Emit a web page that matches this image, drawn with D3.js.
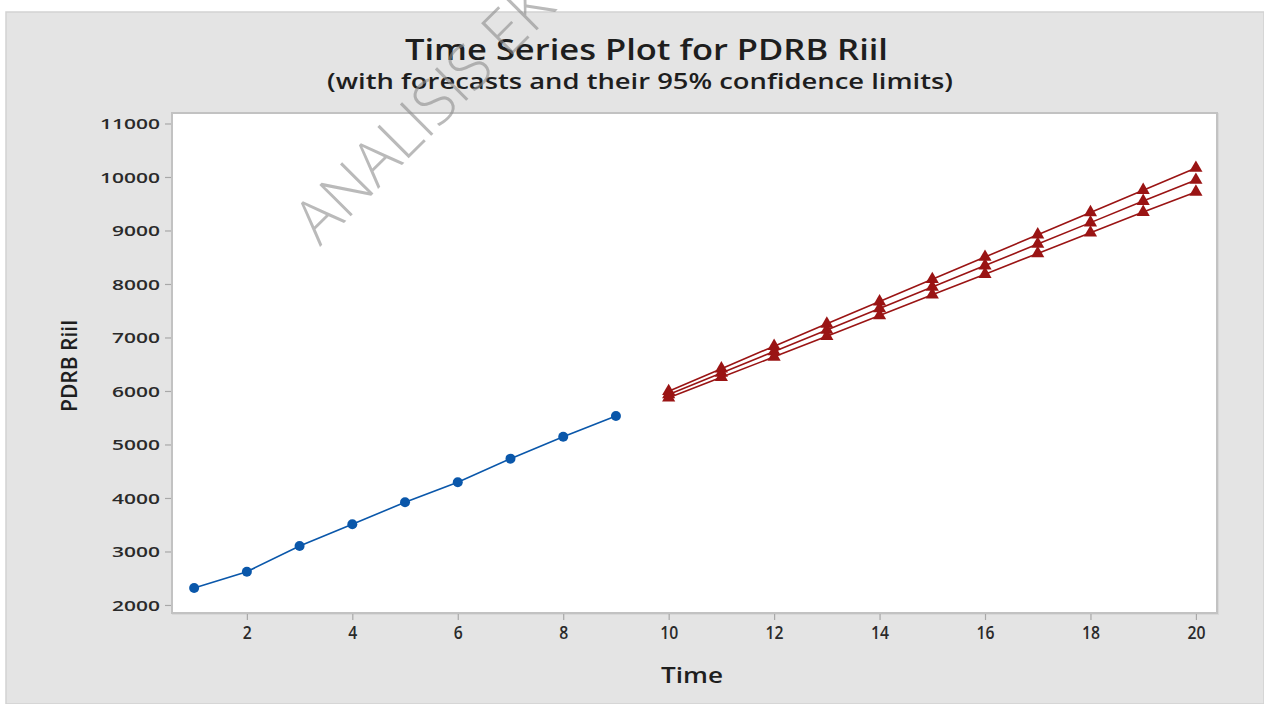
<!DOCTYPE html>
<html>
<head>
<meta charset="utf-8">
<script src="https://cdn.jsdelivr.net/npm/d3@7"></script>
<style>
  html, body { margin: 0; padding: 0; background: #ffffff; }
  svg { display: block; }
</style>
</head>
<body>
<svg id="chart" width="1264" height="704"></svg>
<script>
// Observed series (periods 1-9)
const timeObserved = [1, 2, 3, 4, 5, 6, 7, 8, 9];
const pdrbObserved = [2318, 2622, 3103, 3508, 3920, 4293, 4735, 5146, 5533];

// Forecast periods with point forecasts and 95% limits
const timeForecast = [10, 11, 12, 13, 14, 15, 16, 17, 18, 19, 20];
const pdrbForecast = [5935, 6337, 6738, 7140, 7541, 7943, 8344, 8746, 9147, 9549, 9944];
const pdrbLower    = [5875, 6257, 6638, 7025, 7411, 7798, 8184, 8571, 8957, 9344, 9720];
const pdrbUpper    = [5995, 6417, 6838, 7255, 7671, 8088, 8504, 8921, 9337, 9754, 10168];

// Axis ticks
const xTicks = [2, 4, 6, 8, 10, 12, 14, 16, 18, 20];
const yTicks = [2000, 3000, 4000, 5000, 6000, 7000, 8000, 9000, 10000, 11000];

const svg = d3.select("#chart");

// Panel background
svg.append("rect")
  .attr("x", 6).attr("y", 12)
  .attr("width", 1258).attr("height", 692)
  .attr("fill", "#e4e4e4")
  .attr("stroke", "#d2d2d2").attr("stroke-width", 1.5);

const plot = { left: 172, top: 113, right: 1217, bottom: 613 };

const x = d3.scaleLinear().domain([0.58, 20.4]).range([plot.left, plot.right]);
const y = d3.scaleLinear().domain([1850, 11196]).range([plot.bottom, plot.top]);

// Data region
svg.append("rect")
  .attr("x", plot.left + 1).attr("y", plot.top + 1)
  .attr("width", plot.right - plot.left).attr("height", plot.bottom - plot.top)
  .attr("fill", "none").attr("stroke", "#d8d8d8").attr("stroke-width", 2);
svg.append("rect")
  .attr("x", plot.left).attr("y", plot.top)
  .attr("width", plot.right - plot.left).attr("height", plot.bottom - plot.top)
  .attr("fill", "#ffffff").attr("stroke", "#c2c2c2").attr("stroke-width", 2);

// Axes
const yAxis = d3.axisLeft(y).tickValues(yTicks).tickSize(6).tickPadding(5).tickFormat(d3.format("d"));
const gy = svg.append("g").attr("transform", `translate(${plot.left - 1},0)`).call(yAxis);
gy.select(".domain").remove();
gy.selectAll(".tick line").attr("stroke", "#a8a8a8").attr("stroke-width", 1.2);
gy.selectAll(".tick text")
  .attr("font-family", "'Open Sans', sans-serif")
  .attr("font-weight", 600)
  .attr("font-size", 15)
  .attr("fill", "#2a2a2a")
  .attr("dy", "0.36em")
  .attr("textLength", d => String(d).length * 12)
  .attr("lengthAdjust", "spacingAndGlyphs");

const xAxis = d3.axisBottom(x).tickValues(xTicks).tickSize(6).tickPadding(6);
const gx = svg.append("g").attr("transform", `translate(0,${plot.bottom + 1})`).call(xAxis);
gx.select(".domain").remove();
gx.selectAll(".tick line").attr("stroke", "#a8a8a8").attr("stroke-width", 1.2);
gx.selectAll(".tick text")
  .attr("font-family", "'Open Sans', sans-serif")
  .attr("font-weight", 600)
  .attr("font-size", 18)
  .attr("fill", "#2a2a2a")
  .attr("textLength", d => String(d).length * 9)
  .attr("lengthAdjust", "spacingAndGlyphs");

// Titles
svg.append("text")
  .attr("x", 646.5).attr("y", 60)
  .attr("text-anchor", "middle")
  .attr("font-family", "'Open Sans', sans-serif")
  .attr("font-weight", 600).attr("font-size", 29)
  .attr("fill", "#1e1e1e")
  .attr("textLength", 483).attr("lengthAdjust", "spacingAndGlyphs")
  .text("Time Series Plot for PDRB Riil");
svg.append("text")
  .attr("x", 640).attr("y", 89)
  .attr("text-anchor", "middle")
  .attr("font-family", "'Open Sans', sans-serif")
  .attr("font-weight", 600).attr("font-size", 22)
  .attr("fill", "#1e1e1e")
  .attr("textLength", 626).attr("lengthAdjust", "spacingAndGlyphs")
  .text("(with forecasts and their 95% confidence limits)");

svg.append("text")
  .attr("x", 692).attr("y", 683)
  .attr("text-anchor", "middle")
  .attr("font-family", "'Open Sans', sans-serif")
  .attr("font-weight", 600).attr("font-size", 22)
  .attr("fill", "#1e1e1e")
  .attr("textLength", 62).attr("lengthAdjust", "spacingAndGlyphs")
  .text("Time");
svg.append("text")
  .attr("transform", "translate(77,366) rotate(-90)")
  .attr("text-anchor", "middle")
  .attr("font-family", "'Open Sans', sans-serif")
  .attr("font-weight", 600).attr("font-size", 21)
  .attr("fill", "#1e1e1e")
  .attr("textLength", 92).attr("lengthAdjust", "spacingAndGlyphs")
  .text("PDRB Riil");

// Observed series
const blue = "#0a57aa";
const lineObs = d3.line().x((d, i) => x(timeObserved[i])).y(d => y(d));
svg.append("path")
  .datum(pdrbObserved)
  .attr("d", lineObs)
  .attr("fill", "none").attr("stroke", blue).attr("stroke-width", 1.6);
svg.append("g").selectAll("circle")
  .data(pdrbObserved)
  .join("circle")
  .attr("cx", (d, i) => x(timeObserved[i]))
  .attr("cy", d => y(d))
  .attr("r", 5)
  .attr("fill", blue);

// Forecast series with limits
const red = "#9a1414";
const lineFc = d3.line().x((d, i) => x(timeForecast[i])).y(d => y(d));
const tri = d3.symbol().type(d3.symbolTriangle).size(75);
[pdrbUpper, pdrbForecast, pdrbLower].forEach(series => {
  svg.append("path")
    .datum(series)
    .attr("d", lineFc)
    .attr("fill", "none").attr("stroke", red).attr("stroke-width", 1.6);
});
[pdrbUpper, pdrbForecast, pdrbLower].forEach(series => {
  svg.append("g").selectAll("path")
    .data(series)
    .join("path")
    .attr("d", tri)
    .attr("transform", (d, i) => `translate(${x(timeForecast[i])},${y(d)})`)
    .attr("fill", red);
});

// Watermark
svg.append("text")
  .attr("transform", "translate(320,247) rotate(-45)")
  .attr("font-family", "'Open Sans', sans-serif")
  .attr("font-weight", 300).attr("font-size", 62)
  .attr("fill", "#8c8c8c").attr("fill-opacity", 0.6)
  .text("ANALISIS EK");
</script>
</body>
</html>
